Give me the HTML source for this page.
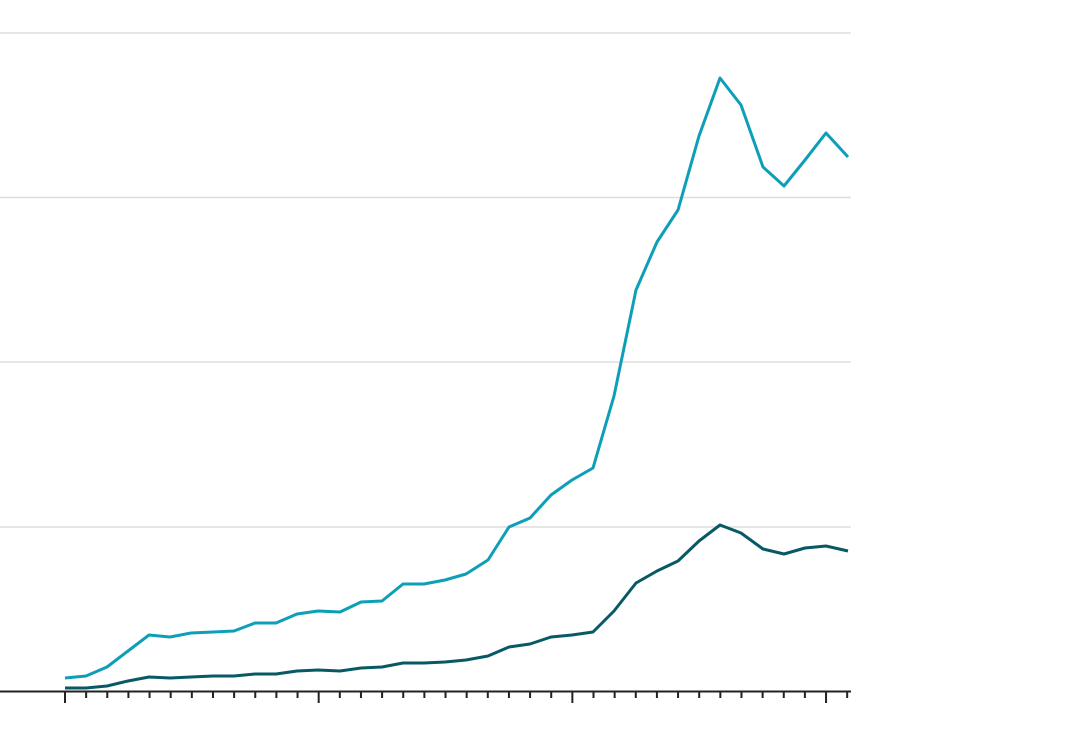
<!DOCTYPE html>
<html><head><meta charset="utf-8"><style>
html,body{margin:0;padding:0;background:#fff;}
svg{display:block;}
</style></head><body>
<svg width="1080" height="744" viewBox="0 0 1080 744" xmlns="http://www.w3.org/2000/svg">
<g stroke="#dddddd" stroke-width="1.5">
<line x1="0" y1="33" x2="851" y2="33"/>
<line x1="0" y1="197.5" x2="851" y2="197.5"/>
<line x1="0" y1="362" x2="851" y2="362"/>
<line x1="0" y1="527" x2="851" y2="527"/>
</g>
<line x1="0" y1="691.5" x2="851" y2="691.5" stroke="#222" stroke-width="2"/>
<g id="ticks" stroke="#222" stroke-width="2"></g>
<polyline fill="none" stroke="#0d9fb8" stroke-width="3" stroke-linejoin="round" points="65,678 86,676 107,667 128,651 149,635 170,637 191,633 213,632 234,631 255,623 276,623 297,614 318,611 340,612 361,602 382,601 403,584 424,584 445,580 466,574 488,560 509,527 530,518 551,495 572,480 593,468 614,396 636,290 657,242 678,210 699,136 720,78 741,105 763,167 784,186 805,160 826,133 848,157"/>
<polyline fill="none" stroke="#075a65" stroke-width="3" stroke-linejoin="round" points="65,688 86,688 107,686 128,681 149,677 170,678 191,677 213,676 234,676 255,674 276,674 297,671 318,670 340,671 361,668 382,667 403,663 424,663 445,662 466,660 488,656 509,647 530,644 551,637 572,635 593,632 614,611 636,583 657,571 678,561 699,541 720,525 741,533 763,549 784,554 805,548 826,546 848,551"/>
</svg>
<script>
var g=document.getElementById('ticks');
for(var i=0;i<38;i++){var x=65+i*21.14;var maj=(i%12==0);
var l=document.createElementNS('http://www.w3.org/2000/svg','line');
l.setAttribute('x1',x);l.setAttribute('x2',x);l.setAttribute('y1',691);l.setAttribute('y2',maj?703:698);g.appendChild(l);}
</script>
</body></html>
